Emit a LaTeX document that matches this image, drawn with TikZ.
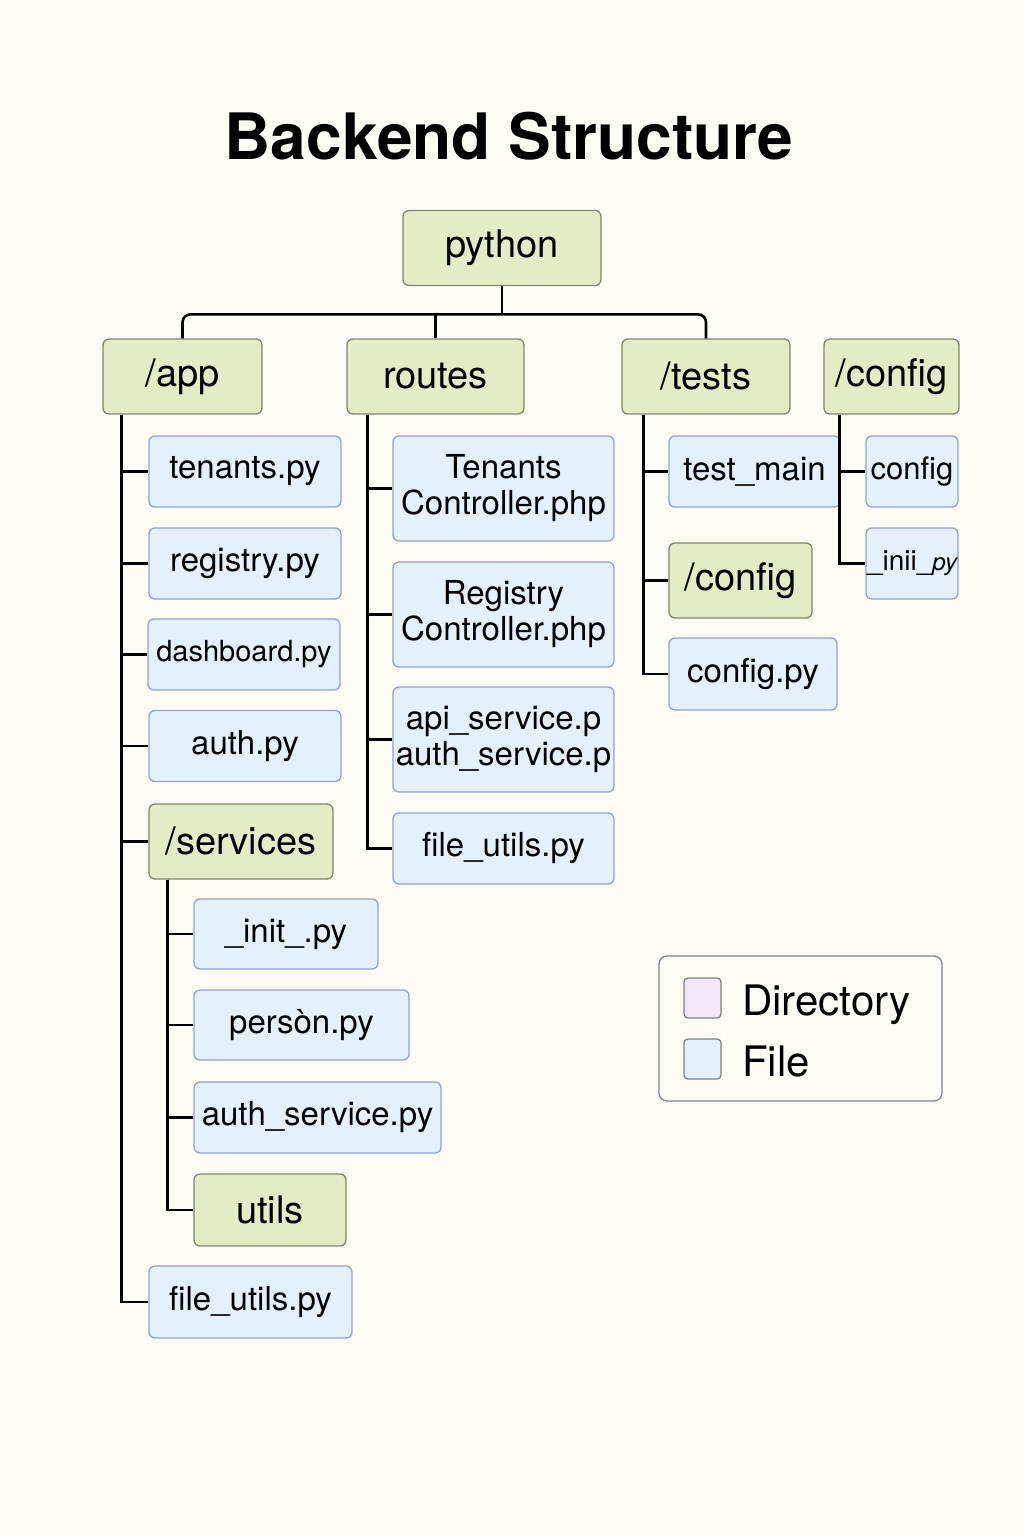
\documentclass[tikz,border=0pt]{standalone}
\usepackage{fontspec}
\setmainfont{TeX Gyre Heros}
\definecolor{bgcol}{HTML}{FDFDF6}
\definecolor{dirfill}{HTML}{E4ECC6}
\definecolor{dirline}{HTML}{80866A}
\definecolor{filefill}{HTML}{E4F1FD}
\definecolor{fileline}{HTML}{8FA3CC}
\definecolor{legdir}{HTML}{F0E6FA}
\definecolor{legline}{HTML}{7F8391}
\begin{document}
\begin{tikzpicture}[x=1pt,y=-1pt,
		dir/.style={draw=dirline,fill=dirfill,line width=1.3pt,rounded corners=6pt,inner sep=0pt,font=\fontsize{38}{44}\selectfont},
		file/.style={draw=fileline,fill=filefill,line width=1.3pt,rounded corners=6pt,inner sep=0pt,align=center,font=\fontsize{33}{36}\selectfont},
		tree/.style={line width=2.6pt,black}]
				\fill[bgcol] (0,0) rectangle (1024,1536);
				\useasboundingbox (0,0) rectangle (1024,1536);
				\node[anchor=base,inner sep=0pt,font=\fontsize{64}{72}\selectfont\bfseries] (title) at (509,160) {Backend Structure};
				% top level
				\node[dir,minimum width=198,minimum height=75] (python) at (502,248) {python};
				\node[dir,minimum width=159,minimum height=75] (app) at (182.5,376.5) {/app};
				\node[dir,minimum width=177,minimum height=75] (routes) at (435.5,376.5) {routes};
				\node[dir,minimum width=168,minimum height=75] (tests) at (706,376.5) {/tests};
				\node[dir,minimum width=135,minimum height=75] (config) at (891.5,376.5) {/config};
				\draw[tree,rounded corners=8pt] (app.north) -- ++(0,-24) -| (tests.north);
				\draw[tree] (python.south) -- ++(0,29);
				\draw[tree] (routes.north) -- ++(0,-24);
				% /app
				\node[file,minimum width=192,minimum height=71] (tenants) at (245,471.5) {tenants.py};
				\node[file,minimum width=192,minimum height=71] (registry) at (245,563.5) {registry.py};
				\node[file,minimum width=192,minimum height=71,font=\fontsize{29}{34}\selectfont] (dashboard) at (244,654.5) {dashboard.py};
				\node[file,minimum width=192,minimum height=71] (auth) at (245,746) {auth.py};
				\node[dir,minimum width=184,minimum height=75] (services) at (241,841.5) {/services};
				\node[file,minimum width=203,minimum height=72] (appfileutils) at (250.5,1302) {file\_utils.py};
				\foreach \c in {tenants,registry,dashboard,auth,services,appfileutils}
					\draw[tree] ([xshift=19pt]app.south west) |- (\c.west);
				% /services
				\node[file,minimum width=184,minimum height=70] (init) at (286,934) {\_init\_.py};
				\node[file,minimum width=215,minimum height=70] (person) at (301.5,1025) {persòn.py};
				\node[file,minimum width=247,minimum height=71] (authservice) at (317.5,1117.5) {auth\_service.py};
				\node[dir,minimum width=152,minimum height=72] (utils) at (270,1210) {utils};
				\foreach \c in {init,person,authservice,utils}
					\draw[tree] ([xshift=19pt]services.south west) |- (\c.west);
				% routes
				\node[file,minimum width=221,minimum height=105] (tenantsctl) at (503.5,488.5) {Tenants\\Controller.php};
				\node[file,minimum width=221,minimum height=105] (registryctl) at (503.5,614.5) {Registry\\Controller.php};
				\node[file,minimum width=221,minimum height=105] (apiservice) at (503.5,739.5) {api\_service.p\\auth\_service.p};
				\node[file,minimum width=221,minimum height=71] (routefileutils) at (503.5,848.5) {file\_utils.py};
				\foreach \c in {tenantsctl,registryctl,apiservice,routefileutils}
					\draw[tree] ([xshift=21pt]routes.south west) |- (\c.west);
				% /tests
				\node[file,minimum width=171,minimum height=71] (testmain) at (754.5,471.5) {test\_main};
				\node[dir,minimum width=143,minimum height=75] (testconfig) at (740.5,580.5) {/config};
				\node[file,minimum width=168,minimum height=72] (configpy) at (753,674) {config.py};
				\foreach \c in {testmain,testconfig,configpy}
					\draw[tree] ([xshift=22pt]tests.south west) |- (\c.west);
				% /config
				\node[file,minimum width=92,minimum height=71,font=\fontsize{31}{36}\selectfont] (configfile) at (912,471.5) {config};
				\node[file,minimum width=92,minimum height=71,font=\fontsize{28}{32}\selectfont] (initpy) at (912,563.5) {\_inii\_{\fontsize{24}{28}\selectfont\itshape py}};
				\foreach \c in {configfile,initpy}
					\draw[tree] ([xshift=16pt]config.south west) |- (\c.west);
				% legend
				\node[draw=legline,line width=1.3pt,rounded corners=8pt,minimum width=283,minimum height=145] (legend) at (800.5,1028.5) {};
				\node[draw=gray,line width=1.3pt,fill=legdir,rounded corners=4pt,minimum width=37,minimum height=40] (swdir) at (702.5,998) {};
				\node[draw=gray,line width=1.3pt,fill=filefill,rounded corners=4pt,minimum width=37,minimum height=40] (swfile) at (702.5,1059) {};
				\node[anchor=base west,inner sep=0pt,font=\fontsize{42}{48}\selectfont] (legdirtext) at (742,1015) {Directory};
				\node[anchor=base west,inner sep=0pt,font=\fontsize{42}{48}\selectfont] (legfiletext) at (742,1076) {File};
		\end{tikzpicture}
\end{document}
